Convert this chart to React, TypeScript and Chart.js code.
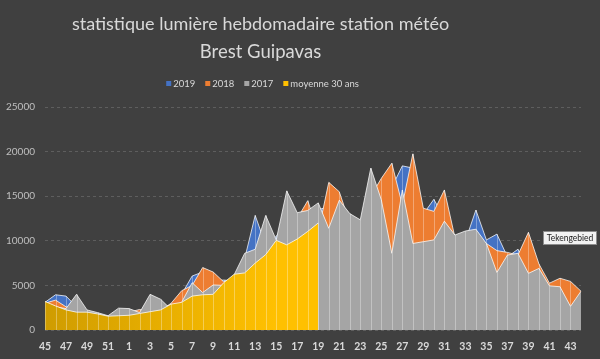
import React, { useEffect, useRef } from 'react';
import { Chart, registerables } from 'chart.js';

Chart.register(...registerables);

const weeks: string[] = [
  '45', '46', '47', '48', '49', '50', '51', '52',
  '1', '2', '3', '4', '5', '6', '7', '8', '9', '10', '11', '12', '13', '14', '15', '16', '17', '18', '19', '20',
  '21', '22', '23', '24', '25', '26', '27', '28', '29', '30', '31', '32', '33', '34', '35', '36', '37', '38',
  '39', '40', '41', '42', '43', '44',
];

const serie2019: number[] = [
  3100, 3950, 3800, 2600, 2000, 1700, 1500, 1700, 1800, 1900, 2500, 2500, 2800, 4000, 6050, 6500,
  5500, 5600, 5500, 8000, 12850, 9500, 10500, 12000, 12000, 12500, 13500, 13800, 12500, 12000, 11000, 14000,
  15000, 16000, 18400, 18150, 13000, 14650, 12500, 10500, 10000, 13450, 10100, 10750, 8200, 9050, 7000, 6500,
  4800, 4800, 4500, 4200,
];

const serie2018: number[] = [
  3000, 3350, 2600, 2200, 1900, 1700, 1500, 1800, 2000, 2300, 2000, 2200, 3000, 4400, 5000, 7000,
  6500, 5400, 5800, 7800, 8500, 11000, 9500, 13000, 12500, 14500, 11000, 16550, 15500, 12000, 11500, 15000,
  17000, 18700, 14000, 19750, 13650, 13300, 15700, 10400, 10500, 10800, 9700, 8900, 8700, 8400, 10950, 7400,
  5250, 5800, 5450, 4350,
];

const serie2017: number[] = [
  3100, 2600, 2400, 4000, 2250, 1950, 1600, 2450, 2400, 1950, 4000, 3450, 2300, 3100, 5300, 4200,
  5050, 5000, 6200, 8600, 9050, 12850, 10100, 15600, 13150, 13400, 14250, 11400, 14550, 13050, 12350, 18150,
  14600, 8600, 15700, 9700, 9900, 10100, 12200, 10650, 11100, 11300, 9700, 6450, 8400, 8600, 6350, 6900,
  4950, 4850, 2650, 4350,
];

const moyenne30: (number | null)[] = [
  3200, 2700, 2250, 2000, 2000, 1800, 1550, 1600, 1650, 1850, 2050, 2250, 2900, 3100, 3800, 3950,
  4000, 5300, 6250, 6400, 7500, 8450, 10050, 9550, 10200, 11050, 12000,
  null, null, null, null, null, null, null, null, null, null, null, null, null, null, null, null, null, null,
  null, null, null, null, null, null, null,
];

const seriesLabels: string[] = ['2019', '2018', '2017', 'moyenne 30 ans'];
const seriesColors: string[] = ['#4472c4', '#ed7d31', '#a5a5a5', '#ffc000'];
const titleLines: string[] = ['statistique lumière hebdomadaire station météo', 'Brest Guipavas'];
const hoverLabel = 'Tekengebied';

const FONT = 'Lato, "Open Sans", sans-serif';

const backgroundPlugin = {
  id: 'bgFill',
  beforeDraw(chart: any) {
    const { ctx, width, height } = chart;
    ctx.save();
    ctx.fillStyle = '#404040';
    ctx.fillRect(0, 0, width, height);
    ctx.restore();
  },
};

const dropLinesPlugin = {
  id: 'dropLines',
  afterDatasetDraw(chart: any, args: any) {
    const { ctx, chartArea } = chart;
    const meta = args.meta;
    const data = chart.data.datasets[args.index].data;
    ctx.save();
    ctx.beginPath();
    ctx.rect(chartArea.left, chartArea.top, chartArea.right - chartArea.left, chartArea.bottom - chartArea.top);
    ctx.clip();
    ctx.beginPath();
    ctx.strokeStyle = 'rgba(255,255,255,0.32)';
    ctx.lineWidth = 1;
    meta.data.forEach((pt: any, i: number) => {
      if (data[i] == null) return;
      const x = Math.round(pt.x) + 0.5;
      ctx.moveTo(x, pt.y);
      ctx.lineTo(x, chartArea.bottom);
    });
    ctx.stroke();
    ctx.restore();
  },
};

const headerPlugin = {
  id: 'header',
  afterDraw(chart: any) {
    const ctx = chart.ctx;
    ctx.save();
    // title
    ctx.fillStyle = '#d9d9d9';
    ctx.textAlign = 'center';
    ctx.textBaseline = 'alphabetic';
    ctx.font = `18px ${FONT}`;
    ctx.fillText(titleLines[0], 260.5, 30);
    ctx.font = `18.5px ${FONT}`;
    ctx.fillText(titleLines[1], 260.5, 57.5);

    // legend
    ctx.font = `9.5px ${FONT}`;
    const box = 5;
    const gapBoxText = 2;
    const gapItems = 10;
    const widths = seriesLabels.map((l) => box + gapBoxText + ctx.measureText(l).width);
    const total = widths.reduce((a, b) => a + b, 0) + gapItems * (widths.length - 1);
    let x = 262.5 - total / 2;
    const cy = 83.5;
    ctx.textAlign = 'left';
    ctx.textBaseline = 'middle';
    seriesLabels.forEach((l, i) => {
      ctx.fillStyle = seriesColors[i];
      ctx.fillRect(x, cy - box / 2, box, box);
      ctx.fillStyle = '#d9d9d9';
      ctx.fillText(l, x + box + gapBoxText, cy + 0.5);
      x += widths[i] + gapItems;
    });

    // hover label box
    ctx.font = `8.5px ${FONT}`;
    const bx = 543;
    const by = 231;
    const bw = 54;
    const bh = 14;
    ctx.fillStyle = '#f2f2f2';
    ctx.fillRect(bx, by, bw, bh);
    ctx.strokeStyle = '#8c8c8c';
    ctx.lineWidth = 1;
    ctx.strokeRect(bx + 0.5, by + 0.5, bw - 1, bh - 1);
    ctx.fillStyle = '#222222';
    ctx.textAlign = 'center';
    ctx.textBaseline = 'middle';
    ctx.fillText(hoverLabel, bx + bw / 2, by + bh / 2 + 0.5);
    ctx.restore();
  },
};

function yellowFill(c: any) {
  const chart = c.chart;
  const area = chart.chartArea;
  if (!area) return '#ffc000';
  const g = chart.ctx.createLinearGradient(area.left, 0, area.left + 230, 0);
  g.addColorStop(0, '#cf9c00');
  g.addColorStop(1, '#ffc000');
  return g;
}

export default function App() {
  const canvasRef = useRef<HTMLCanvasElement | null>(null);

  useEffect(() => {
    document.body.style.margin = '0';
    const canvas = canvasRef.current;
    if (!canvas) return;
    const series = [serie2019, serie2018, serie2017, moyenne30];
    const chart = new Chart(canvas, {
      type: 'line',
      data: {
        labels: weeks,
        datasets: series.map((d, i) => ({
          label: seriesLabels[i],
          data: d,
          order: 4 - i,
          fill: 'origin',
          backgroundColor: i === 3 ? yellowFill : seriesColors[i],
          borderColor: 'rgba(255,255,255,0.75)',
          borderWidth: 1,
          pointRadius: 0,
          tension: 0,
          spanGaps: false,
        })),
      },
      options: {
        responsive: false,
        animation: false,
        events: [],
        layout: { padding: { top: 107, right: 19, left: 0, bottom: 0 } },
        plugins: {
          legend: { display: false },
          title: { display: false },
          tooltip: { enabled: false },
        },
        scales: {
          x: {
            type: 'category',
            offset: false,
            grid: { display: false, drawTicks: false },
            border: { display: false },
            ticks: {
              autoSkip: false,
              maxRotation: 0,
              minRotation: 0,
              padding: 10,
              color: '#d9d9d9',
              font: { family: FONT, size: 10.5, weight: 'bold' },
              callback: (_v: any, i: number) => (i % 2 === 0 ? weeks[i] : ''),
            },
            afterFit: (s: any) => {
              s.height = 29;
            },
          },
          y: {
            min: 0,
            max: 25000,
            ticks: {
              stepSize: 5000,
              padding: 10,
              color: '#bfbfbf',
              font: { family: FONT, size: 10 },
              callback: (v: any) => String(v),
            },
            grid: { color: '#5e5e5e', drawTicks: false, tickLength: 0 },
            border: { display: false, dash: [3, 3] },
            afterFit: (s: any) => {
              s.width = 45;
            },
          },
        },
      } as any,
      plugins: [backgroundPlugin, dropLinesPlugin, headerPlugin],
    });
    return () => chart.destroy();
  }, []);

  return (
    <div style={{ position: 'absolute', left: 0, top: 0, width: 600, height: 359 }}>
      <canvas ref={canvasRef} width={600} height={359} style={{ display: 'block', width: 600, height: 359 }} />
    </div>
  );
}
